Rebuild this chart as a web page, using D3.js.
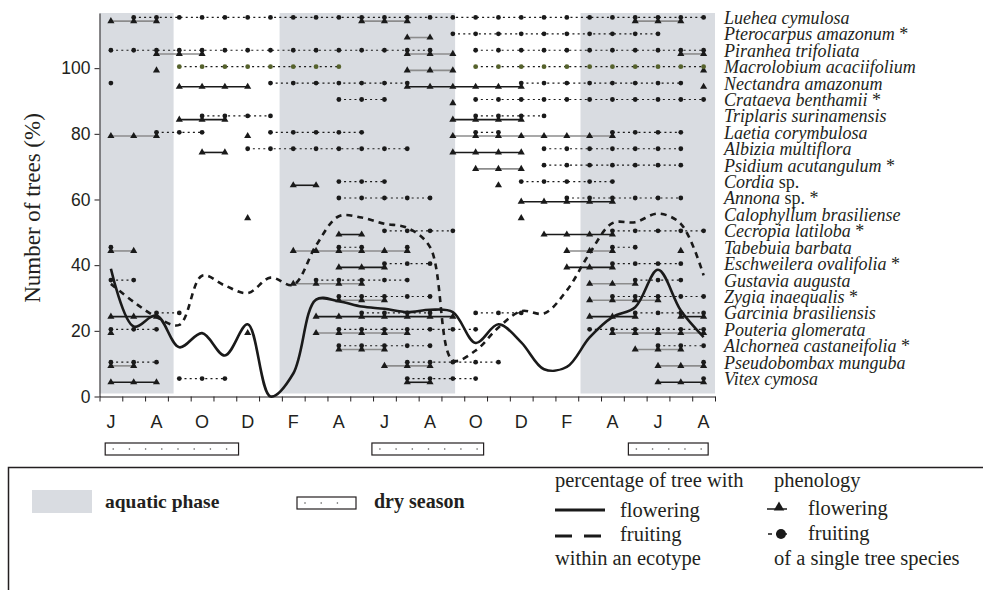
<!DOCTYPE html>
<html>
<head>
<meta charset="utf-8">
<script src="https://cdnjs.cloudflare.com/ajax/libs/d3/7.8.5/d3.min.js"></script>
<style>
  body { margin: 0; background: #fff; }
  svg { display: block; }
  .axis path, .axis line { stroke: #231f20; }
  .axis text { font-family: 'Liberation Sans', Arial, sans-serif; font-size: 17.5px; fill: #231f20; }
</style>
</head>
<body>
<div id="chart"></div>
<script>
// month letters, June of year 1 to August of year 3
var months = ['J','J','A','S','O','N','D','J','F','M','A','M','J','J','A','S','O','N','D','J','F','M','A','M','J','J','A'];
var yTicks = [0, 20, 40, 60, 80, 100];

var species = ['Luehea cymulosa', 'Pterocarpus amazonum *', 'Piranhea trifoliata', 'Macrolobium acaciifolium',
    'Nectandra amazonum', 'Crataeva benthamii *', 'Triplaris surinamensis', 'Laetia corymbulosa',
    'Albizia multiflora', 'Psidium acutangulum *', 'Cordia sp.', 'Annona sp. *', 'Calophyllum brasiliense',
    'Cecropia latiloba *', 'Tabebuia barbata', 'Eschweilera ovalifolia *', 'Gustavia augusta',
    'Zygia inaequalis *', 'Garcinia brasiliensis', 'Pouteria glomerata', 'Alchornea castaneifolia *',
    'Pseudobombax munguba', 'Vitex cymosa'];
var rowLevel = [115, 110, 105, 100, 95, 90, 85, 80, 75, 70, 65, 60, 55, 50, 45, 40, 35, 30, 25, 20, 15, 10, 5];

// month index ranges (inclusive) per species
var flowering = [
    [[0, 2], [11, 13], [23, 25]],
    [[13, 14]],
    [[2, 4], [13, 15], [25, 26]],
    [[2, 2], [13, 15], [26, 26]],
    [[3, 6], [13, 18], [26, 26]],
    [[15, 15]],
    [[3, 5], [15, 18]],
    [[0, 2], [6, 6], [15, 22]],
    [[4, 5], [15, 18]],
    [[16, 18]],
    [[8, 9], [17, 17]],
    [[18, 22]],
    [[6, 6], [18, 18]],
    [[10, 11], [19, 22]],
    [[0, 1], [8, 13], [20, 22], [25, 25]],
    [[10, 12], [20, 22]],
    [[8, 11], [21, 23]],
    [[10, 12], [21, 24]],
    [[0, 2], [9, 15], [21, 23], [25, 26]],
    [[0, 0], [6, 6], [9, 13], [22, 26]],
    [[10, 12], [23, 25]],
    [[0, 1], [12, 14], [24, 26]],
    [[0, 2], [13, 14], [24, 26]]
];
var fruiting = [
    [[1, 26]],
    [[15, 24]],
    [[0, 14], [16, 26]],
    [[3, 10], [16, 26]],
    [[0, 0], [7, 13], [18, 25]],
    [[10, 12], [16, 26]],
    [[4, 7], [16, 19]],
    [[2, 4], [7, 11], [16, 17], [22, 25]],
    [[6, 13], [19, 25]],
    [[19, 25]],
    [[10, 12], [18, 22]],
    [[10, 14], [20, 25]],
    [],
    [[12, 15], [22, 26]],
    [[0, 0], [10, 11], [13, 13], [22, 23]],
    [[12, 14], [22, 25]],
    [[0, 1], [9, 13], [23, 25]],
    [[10, 14], [22, 26]],
    [[2, 3], [11, 14], [16, 18], [23, 26]],
    [[0, 2], [10, 16], [21, 26]],
    [[10, 14], [24, 26]],
    [[0, 2], [13, 17], [26, 26]],
    [[3, 5], [13, 16], [26, 26]]
];
var lineTone = ['g', 'g', 'g', 'g', 'k', 'k', 'k', 'g', 'k', 'g', 'k', 'k', 'k', 'k', 'g', 'k', 'g', 'g', 'k', 'g', 'g', 'g', 'k'];

// percentage of trees within the ecotype, per month
var flowerPct = [38.9, 21.3, 24.7, 15, 19.3, 12.5, 22, 0, 7, 29.5, 29, 27.4, 26.7, 25.7, 26.4, 25.7,
    16.3, 22, 16.5, 8.3, 9, 18, 24.2, 27.2, 38.6, 26.2, 18.1];
var fruitPct = [34.3, 28.8, 24.2, 21.8, 36.8, 33.8, 31.5, 36.2, 34, 46, 54.9, 54.5, 52.6, 51.4, 45.5, 11,
    14, 21, 26, 25.3, 32.3, 43.6, 52.8, 53.1, 55.7, 52.6, 36.9];

var aquaticPhase = [[0, 3.25], [7.9, 15.6], [21.1, 27]];
var drySeason = [[0.25, 6.1], [11.95, 16.85], [23.2, 26.7]];

var W = 983, H = 590,
    ink = '#231f20',
    serif = "'Liberation Serif', 'Times New Roman', serif",
    sans = "'Liberation Sans', Arial, sans-serif";

var svg = d3.select('#chart').append('svg').attr('width', W).attr('height', H);

var x = d3.scaleLinear().domain([0, 27]).range([99.5, 715]),
    y = d3.scaleLinear().domain([0, 116.8]).range([396.5, 13]);
function mx(i) { return x(i + 0.5); }

// aquatic phase shading
svg.append('g').selectAll('rect').data(aquaticPhase).join('rect')
    .attr('x', function (d) { return x(d[0]); })
    .attr('width', function (d) { return x(d[1]) - x(d[0]); })
    .attr('y', y.range()[1])
    .attr('height', y(0) - 3 - y.range()[1])
    .attr('fill', '#d9dce1');

// axes
svg.append('g').attr('class', 'axis')
    .attr('transform', 'translate(' + x(0) + ',0)')
    .call(d3.axisLeft(y).tickValues(yTicks).tickSize(5).tickSizeOuter(0).tickPadding(4));

svg.append('g').attr('class', 'axis')
    .attr('transform', 'translate(0,' + y(0) + ')')
    .call(d3.axisBottom(x).tickValues(d3.range(28)).tickSize(5).tickSizeOuter(0).tickFormat(''));

svg.append('g').selectAll('text').data(d3.range(0, 27, 2)).join('text')
    .attr('x', mx).attr('y', 428)
    .attr('text-anchor', 'middle')
    .style('font', '18px ' + sans).attr('fill', ink)
    .text(function (i) { return months[i]; });

svg.append('text')
    .attr('transform', 'translate(40,' + 208 + ') rotate(-90)')
    .attr('text-anchor', 'middle')
    .style('font', '23px ' + serif).attr('fill', ink)
    .text('Number of trees (%)');

// dry season boxes
function dryBox(g, x0, x1, yTop) {
    g.append('rect').attr('x', x0).attr('y', yTop).attr('width', x1 - x0).attr('height', 12)
        .attr('fill', '#fff').attr('stroke', ink).attr('stroke-width', 1.2);
    g.selectAll('circle.d').data(d3.range(x0 + 8, x1 - 4, 16.2)).join('circle')
        .attr('class', 'd').attr('cx', function (d) { return d; }).attr('cy', yTop + 6)
        .attr('r', 0.8).attr('fill', '#555');
}
drySeason.forEach(function (d) {
    dryBox(svg.append('g'), x(d[0]), x(d[1]), 443);
});

// single species phenology
var rows = svg.append('g');
species.forEach(function (name, s) {
    var yv = y(rowLevel[s]),
        yFl = yv + 2.2, yFr = yv - 1.5,
        tone = lineTone[s] === 'g' ? '#8c8c8c' : '#1a1a1a',
        dotFill = s === 3 ? '#56622c' : '#1a1a1a',
        g = rows.append('g');

    flowering[s].forEach(function (r) {
        if (r[1] > r[0]) {
            g.append('line').attr('x1', mx(r[0])).attr('x2', mx(r[1]))
                .attr('y1', yFl).attr('y2', yFl)
                .attr('stroke', tone).attr('stroke-width', 1.6);
        }
    });
    fruiting[s].forEach(function (r) {
        if (r[1] > r[0]) {
            g.append('line').attr('x1', mx(r[0])).attr('x2', mx(r[1]))
                .attr('y1', yFr).attr('y2', yFr)
                .attr('stroke', '#1a1a1a').attr('stroke-width', 1.1)
                .attr('stroke-dasharray', '2,3.2');
        }
    });

    var flMonths = [], frMonths = [];
    flowering[s].forEach(function (r) { flMonths = flMonths.concat(d3.range(r[0], r[1] + 1)); });
    fruiting[s].forEach(function (r) { frMonths = frMonths.concat(d3.range(r[0], r[1] + 1)); });

    g.selectAll('path.tri').data(flMonths).join('path')
        .attr('class', 'tri')
        .attr('d', d3.symbol(d3.symbolTriangle, 22))
        .attr('transform', function (i) { return 'translate(' + mx(i) + ',' + yFl + ')'; })
        .attr('fill', '#1a1a1a');
    g.selectAll('circle').data(frMonths).join('circle')
        .attr('cx', mx).attr('cy', yFr).attr('r', 2.4)
        .attr('fill', dotFill);

    var label = svg.append('text').attr('x', 724).attr('y', yv + 5)
        .style('font', '18px ' + serif).attr('fill', ink);
    name.split(' ').forEach(function (w, k) {
        label.append('tspan')
            .style('font-style', (w === 'sp.' || w === '*') ? 'normal' : 'italic')
            .text((k ? ' ' : '') + w);
    });
});

// ecotype curves
var line = d3.line()
    .x(function (d, i) { return mx(i); })
    .y(function (d) { return y(d); })
    .curve(d3.curveCatmullRom.alpha(0.5));

svg.append('path').datum(fruitPct).attr('d', line)
    .attr('fill', 'none').attr('stroke', '#1a1a1a').attr('stroke-width', 2.6)
    .attr('stroke-dasharray', '6,5');
svg.append('path').datum(flowerPct).attr('d', line)
    .attr('fill', 'none').attr('stroke', '#1a1a1a').attr('stroke-width', 2.6);

// legend
var lg = svg.append('g');
lg.append('path').attr('d', 'M8.5,590 V467.5 H983')
    .attr('fill', 'none').attr('stroke', ink).attr('stroke-width', 1.5);
lg.append('rect').attr('x', 32).attr('y', 490).attr('width', 60).attr('height', 23).attr('fill', '#d9dce1');
lg.append('text').attr('x', 105).attr('y', 508).style('font', 'bold 19.5px ' + serif).attr('fill', ink).text('aquatic phase');
dryBox(lg.append('g'), 297, 356, 497);
lg.append('text').attr('x', 374).attr('y', 508).style('font', 'bold 20px ' + serif).attr('fill', ink).text('dry season');

function legendText(tx, ty, str) {
    lg.append('text').attr('x', tx).attr('y', ty).style('font', '20.5px ' + serif).attr('fill', ink).text(str);
}
legendText(555, 487, 'percentage of tree with');
legendText(620, 517, 'flowering');
legendText(620, 541, 'fruiting');
legendText(555, 565, 'within an ecotype');
legendText(774, 487, 'phenology');
legendText(808, 515, 'flowering');
legendText(808, 540, 'fruiting');
legendText(774, 565, 'of a single tree species');

lg.append('line').attr('x1', 555).attr('x2', 605).attr('y1', 510).attr('y2', 510)
    .attr('stroke', '#1a1a1a').attr('stroke-width', 3.2);
lg.append('line').attr('x1', 555).attr('x2', 601).attr('y1', 536).attr('y2', 536)
    .attr('stroke', '#1a1a1a').attr('stroke-width', 3.2).attr('stroke-dasharray', '17,12');
lg.append('line').attr('x1', 767).attr('x2', 787).attr('y1', 509).attr('y2', 509)
    .attr('stroke', '#1a1a1a').attr('stroke-width', 1.5);
lg.append('path').attr('d', d3.symbol(d3.symbolTriangle, 48))
    .attr('transform', 'translate(779,507.5)').attr('fill', '#1a1a1a');
lg.append('line').attr('x1', 768).attr('x2', 787).attr('y1', 534).attr('y2', 534)
    .attr('stroke', '#1a1a1a').attr('stroke-width', 1.5).attr('stroke-dasharray', '4,4');
lg.append('circle').attr('cx', 781).attr('cy', 534).attr('r', 5).attr('fill', '#1a1a1a');
</script>
</body>
</html>
